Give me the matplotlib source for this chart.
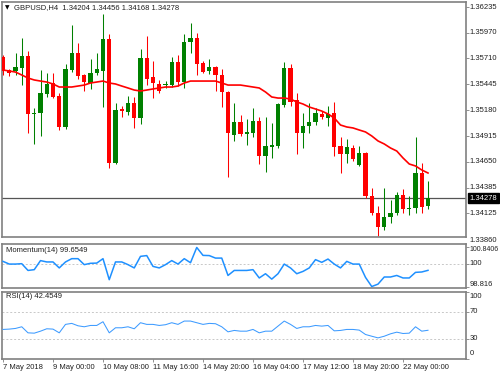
import matplotlib
matplotlib.use('Agg')
import matplotlib.pyplot as plt

# ---------------- data ----------------
opens = [1.35724, 1.35591, 1.35581, 1.35611, 1.35734, 1.35141, 1.35151, 1.35345, 1.35458, 1.35325,
         1.35008, 1.35591, 1.35765, 1.35540, 1.35458, 1.35560, 1.35581, 1.35908, 1.34640, 1.35192,
         1.35161, 1.35253, 1.35100, 1.35714, 1.35519, 1.35448, 1.35437, 1.35437, 1.35673, 1.35468,
         1.35877, 1.35918, 1.35663, 1.35581, 1.35622, 1.35540, 1.35366, 1.34926, 1.35059, 1.34936,
         1.34946, 1.35069, 1.34711, 1.34803, 1.34813, 1.35233, 1.35611, 1.35284, 1.34946, 1.35018,
         1.35059, 1.35141, 1.35100, 1.35151, 1.34813, 1.34732, 1.34793, 1.34619, 1.34742, 1.34302,
         1.34128, 1.33985, 1.34087, 1.34128, 1.34312, 1.34169, 1.34179, 1.34537, 1.34204]
highs = [1.35744, 1.35601, 1.35765, 1.35918, 1.35785, 1.35202, 1.35591, 1.35560, 1.35560, 1.35356,
         1.35652, 1.36051, 1.35867, 1.35550, 1.35703, 1.35765, 1.36164, 1.35959, 1.35253, 1.35223,
         1.35325, 1.35315, 1.35806, 1.35939, 1.35683, 1.35489, 1.35478, 1.35724, 1.35744, 1.35959,
         1.36072, 1.35969, 1.35683, 1.35703, 1.35632, 1.35601, 1.35376, 1.35253, 1.35131, 1.35090,
         1.35202, 1.35110, 1.35110, 1.35049, 1.35253, 1.35673, 1.35652, 1.35356, 1.35151, 1.35253,
         1.35202, 1.35171, 1.35223, 1.35264, 1.34905, 1.34885, 1.34824, 1.34813, 1.34752, 1.34384,
         1.34200, 1.34384, 1.34261, 1.34343, 1.34374, 1.34302, 1.34905, 1.34640, 1.34456]
lows = [1.35540, 1.35530, 1.35540, 1.35437, 1.34946, 1.34834, 1.34916, 1.35315, 1.35304, 1.34977,
        1.34987, 1.35570, 1.35499, 1.35376, 1.35397, 1.35540, 1.35212, 1.34588, 1.34629, 1.35110,
        1.35131, 1.34998, 1.35038, 1.35437, 1.35304, 1.35356, 1.35407, 1.35417, 1.35427, 1.35407,
        1.35765, 1.35540, 1.35560, 1.35550, 1.35376, 1.35212, 1.34496, 1.34865, 1.34916, 1.34824,
        1.34905, 1.34629, 1.34547, 1.34691, 1.34793, 1.35212, 1.35223, 1.34732, 1.34793, 1.34946,
        1.35028, 1.35090, 1.35018, 1.34711, 1.34537, 1.34640, 1.34660, 1.34609, 1.34281, 1.34108,
        1.33893, 1.33954, 1.34026, 1.34108, 1.34128, 1.34108, 1.34128, 1.34128, 1.34168]
closes = [1.35581, 1.35560, 1.35622, 1.35734, 1.35141, 1.35151, 1.35356, 1.35448, 1.35315, 1.35008,
          1.35601, 1.35765, 1.35530, 1.35468, 1.35560, 1.35601, 1.35908, 1.34640, 1.35182, 1.35171,
          1.35253, 1.35100, 1.35714, 1.35499, 1.35458, 1.35376, 1.35448, 1.35673, 1.35468, 1.35877,
          1.35918, 1.35652, 1.35570, 1.35622, 1.35540, 1.35366, 1.34946, 1.35059, 1.34936, 1.34957,
          1.35069, 1.34711, 1.34813, 1.34824, 1.35243, 1.35611, 1.35264, 1.34946, 1.35018, 1.35059,
          1.35151, 1.35110, 1.35141, 1.34803, 1.34732, 1.34803, 1.34680, 1.34742, 1.34302, 1.34128,
          1.33985, 1.34087, 1.34128, 1.34312, 1.34169, 1.34179, 1.34537, 1.34189, 1.34278]
ma = [1.35591, 1.35581, 1.35570, 1.35540, 1.35509, 1.35489, 1.35478, 1.35468, 1.35448, 1.35417,
      1.35417, 1.35417, 1.35427, 1.35437, 1.35458, 1.35468, 1.35478, 1.35458, 1.35448, 1.35427,
      1.35407, 1.35386, 1.35376, 1.35386, 1.35397, 1.35407, 1.35417, 1.35417, 1.35427, 1.35458,
      1.35478, 1.35478, 1.35478, 1.35478, 1.35478, 1.35458, 1.35437, 1.35437, 1.35437, 1.35427,
      1.35417, 1.35407, 1.35366, 1.35315, 1.35304, 1.35304, 1.35294, 1.35264, 1.35243, 1.35212,
      1.35192, 1.35171, 1.35141, 1.35100, 1.35028, 1.35008, 1.34998, 1.34977, 1.34957, 1.34916,
      1.34865, 1.34834, 1.34793, 1.34762, 1.34691, 1.34629, 1.34609, 1.34568, 1.34537]
momentum = [100.12, 99.98, 99.98, 100.00, 99.65, 99.69, 100.16, 100.09, 100.09, 99.78,
            100.09, 100.26, 100.26, 99.95, 100.02, 100.03, 100.26, 99.17, 100.09, 100.09,
            99.95, 99.78, 100.38, 100.42, 99.86, 99.78, 99.95, 100.16, 99.98, 100.26,
            100.05, 100.8406, 100.43, 100.42, 100.29, 100.29, 99.39, 99.65, 99.65, 99.65,
            99.69, 99.26, 99.48, 99.20, 99.48, 99.98, 99.78, 99.48, 99.60, 99.78,
            100.21, 100.07, 100.24, 99.98, 99.78, 100.12, 99.98, 99.98, 99.29, 98.816,
            98.94, 99.31, 99.31, 99.39, 99.26, 99.26, 99.55, 99.57, 99.6549]
rsi = [43.7, 44.2, 45.2, 47.7, 38.6, 38.1, 41.1, 44.7, 44.2, 38.6,
       51.3, 52.8, 49.2, 47.7, 49.7, 49.7, 55.3, 38.6, 46.2, 46.2,
       47.7, 44.7, 53.8, 51.3, 51.3, 49.7, 50.8, 53.8, 51.3, 56.3,
       56.3, 53.8, 51.3, 52.8, 52.3, 47.7, 40.1, 42.2, 41.1, 41.1,
       43.7, 38.6, 41.1, 41.1, 48.7, 56.3, 51.3, 45.2, 47.7, 47.7,
       49.7, 48.7, 49.7, 41.6, 42.2, 43.7, 43.7, 42.7, 36.1, 33.5,
       31.0, 33.5, 37.1, 39.6, 37.6, 38.1, 47.7, 41.1, 42.4549]

price_ticks = [1.36235, 1.35970, 1.35710, 1.35445, 1.35180, 1.34915, 1.34650, 1.34385, 1.34125, 1.33860]
price_tick_labels = ["1.36235", "1.35970", "1.35710", "1.35445", "1.35180", "1.34915",
                     "1.34650", "1.34385", "1.34125", "1.33860"]
mom_ticks = [100.8406, 100.0, 98.816]
mom_tick_labels = ["100.8406", "100", "98.816"]
rsi_ticks = [100, 70, 30, 0]
rsi_tick_labels = ["100", "70", "30", "0"]
x_tick_idx = [0, 8, 16, 24, 32, 40, 48, 56, 64]
x_tick_labels = ["7 May 2018", "9 May 00:00", "10 May 08:00", "11 May 16:00", "14 May 20:00",
                 "16 May 04:00", "17 May 12:00", "18 May 20:00", "22 May 00:00"]
title = "GBPUSD,H4  1.34204 1.34456 1.34168 1.34278"
mom_title = "Momentum(14) 99.6549"
rsi_title = "RSI(14) 42.4549"
last_price = 1.34278
last_label = "1.34278"

# ---------------- style ----------------
plt.rcParams['font.family'] = ['Liberation Sans', 'DejaVu Sans']
FS = 5.5
UP = '#008000'
DN = '#ff0000'
FRAME = '#808080'

W, H = 500, 375
fig = plt.figure(figsize=(5, 3.75), dpi=100)


def rect(l, t, r, b):
    return [l / W, 1 - b / H, (r - l) / W, (b - t) / H]


ax1 = fig.add_axes(rect(2, 2, 466, 237))
ax2 = fig.add_axes(rect(2, 244, 466, 288))
ax3 = fig.add_axes(rect(2, 292, 466, 358.5))

n = len(opens)
xs = list(range(n))
XL = (-0.16, 74.08)

for ax in (ax1, ax2, ax3):
    ax.set_xlim(*XL)
    for s in ax.spines.values():
        s.set_color(FRAME)
        s.set_linewidth(1.2)
    ax.yaxis.tick_right()
    ax.tick_params(axis='y', which='both', direction='out', length=2, width=0.6,
                   color=FRAME, labelright=False, labelleft=False, left=False, right=True)
    ax.set_xticks([])


def rlabel(ax, val, text, dy_px=0.0, fs=FS):
    ax.annotate(text, xy=(1, val), xycoords=('axes fraction', 'data'),
                xytext=(2.6, -dy_px * 0.72), textcoords='offset points',
                ha='left', va='center', fontsize=fs, color='#202020',
                annotation_clip=False)


# ---- main candle panel ----
ax1.set_ylim(1.33882, 1.36287)
for i in xs:
    o, h, l, c = opens[i], highs[i], lows[i], closes[i]
    col = UP if c >= o else DN
    ax1.vlines(i, l, h, color=col, lw=0.75, zorder=2)
    bot = min(o, c)
    ht = max(abs(c - o), 0.00007)
    ax1.bar(i, ht, bottom=bot, width=0.66, color=col, edgecolor=col, lw=0, zorder=3)

ax1.plot(xs, ma, color=DN, lw=1.2, zorder=4)
ax1.axhline(last_price, color='#555555', lw=0.9, zorder=1)
ax1.set_yticks(price_ticks[:-1])
for v, t in zip(price_ticks, price_tick_labels):
    rlabel(ax1, v, t, dy_px=1.5 if v < 1.3387 else 0)
ax1.annotate(last_label, xy=(1, last_price), xycoords=('axes fraction', 'data'),
             xytext=(2.6, 0), textcoords='offset points', ha='left', va='center',
             fontsize=FS, color='white', annotation_clip=False,
             bbox=dict(boxstyle='square,pad=0.18', fc='black', ec='black'))

# ---- momentum ----
ax2.set_ylim(98.74, 101.02)
ax2.axhline(100, color='#c8c8c8', lw=0.7, ls=(0, (2, 2)), zorder=1)
ax2.plot(xs, momentum, color='#1e90ff', lw=1.1, zorder=3)
ax2.set_yticks(mom_ticks)
rlabel(ax2, mom_ticks[0], mom_tick_labels[0], dy_px=2.0, fs=5.0)
rlabel(ax2, mom_ticks[1], mom_tick_labels[1], dy_px=0)
rlabel(ax2, mom_ticks[2], mom_tick_labels[2], dy_px=-2.0)

# ---- RSI ----
ax3.set_ylim(0, 100)
for lv in (70, 30):
    ax3.axhline(lv, color='#c8c8c8', lw=0.7, ls=(0, (2, 2)), zorder=1)
ax3.plot(xs, rsi, color='#3d9bff', lw=0.75, zorder=3)
ax3.set_yticks(rsi_ticks)
rlabel(ax3, 100, "100", dy_px=4.0)
rlabel(ax3, 70, "70")
rlabel(ax3, 30, "30")
rlabel(ax3, 0, "0", dy_px=-5.0)

ax3.set_xticks(x_tick_idx)
ax3.set_xticklabels(x_tick_labels, ha='left', fontsize=FS, color='#202020')
ax3.tick_params(axis='x', direction='out', length=2.5, width=0.6, color=FRAME, pad=1.5)

# ---- titles ----
fig.text(5 / W, 1 - 8 / H, '\u25bc', fontsize=4.2, va='center', ha='left',
         family=['DejaVu Sans'], color='black')
fig.text(14 / W, 1 - 7.5 / H, title, fontsize=FS, va='center', ha='left', color='#202020')
fig.text(6 / W, 1 - 251 / H, mom_title, fontsize=FS, va='center', ha='left', color='#202020')
fig.text(6 / W, 1 - 297 / H, rsi_title, fontsize=FS, va='center', ha='left', color='#202020')

fig.savefig('out.png', dpi=100, facecolor='white')
